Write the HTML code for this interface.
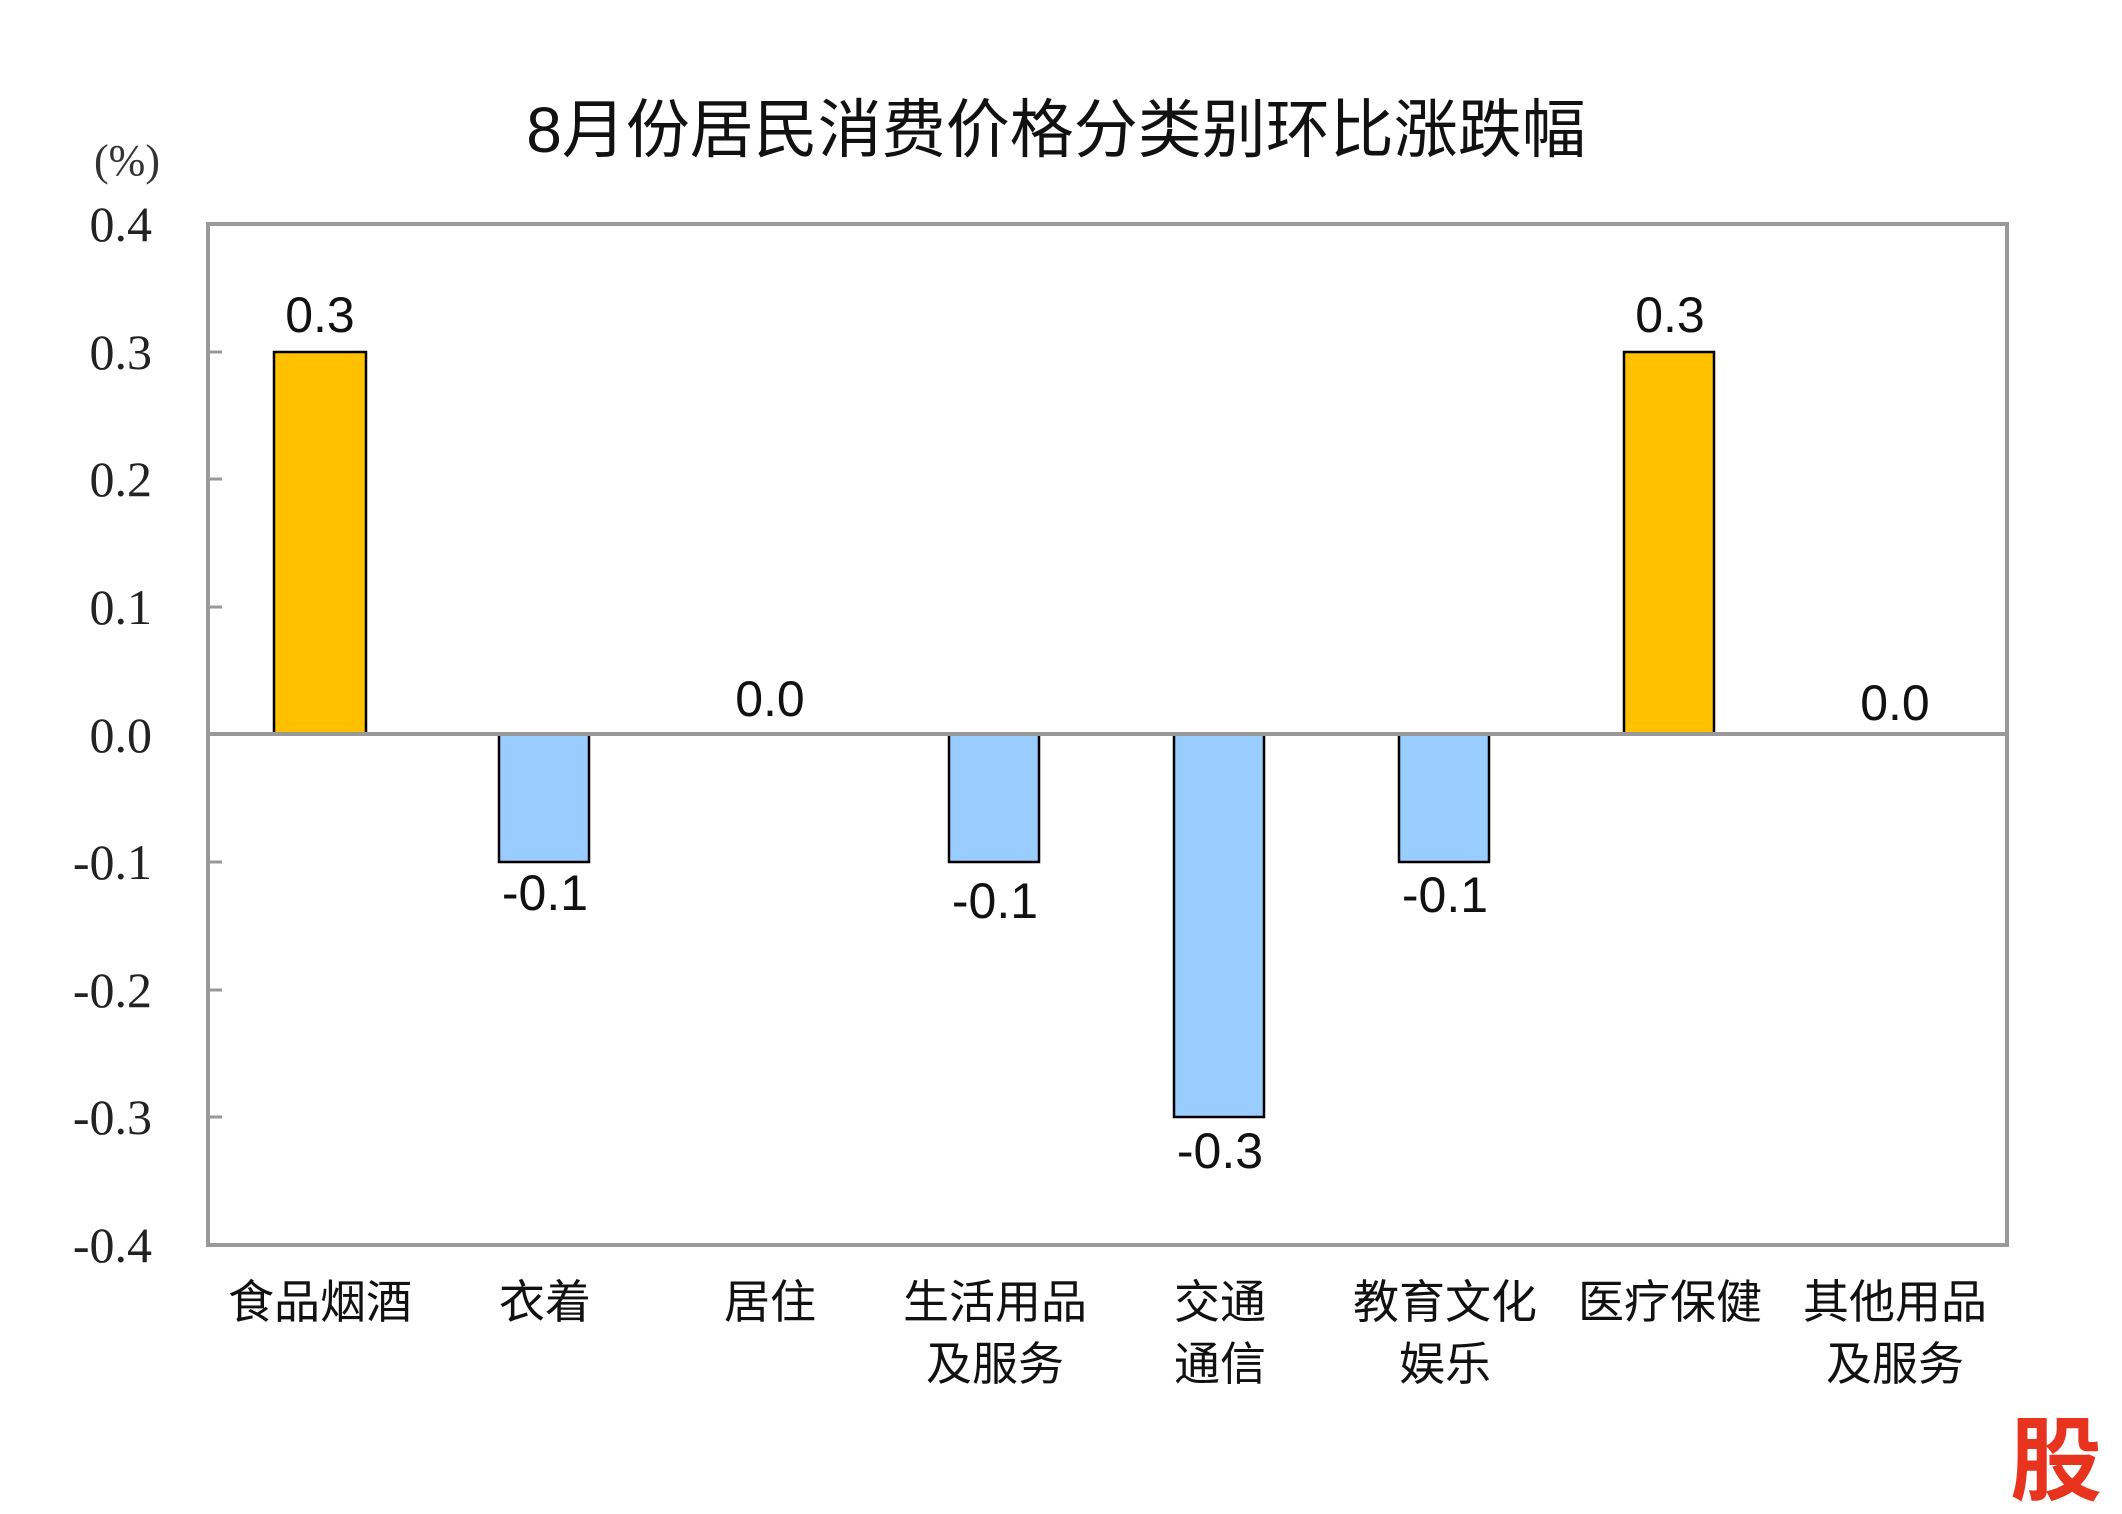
<!DOCTYPE html>
<html><head><meta charset="utf-8"><style>
html,body{margin:0;padding:0;background:#fff;}
svg{display:block;}
.t{font-family:"Liberation Sans","Noto Sans CJK SC",sans-serif;}
.s{font-family:"Liberation Serif",serif;}
</style></head><body>
<svg width="2122" height="1514" viewBox="0 0 2122 1514" xmlns="http://www.w3.org/2000/svg">
<rect width="2122" height="1514" fill="#fff"/>
<text x="1056" y="152" class="t" font-size="64" text-anchor="middle" fill="#111">8月份居民消费价格分类别环比涨跌幅</text>
<text x="127" y="175" class="s" font-size="44" text-anchor="middle" fill="#333">(%)</text>
<g class="s" font-size="50" fill="#222" text-anchor="end">
<text x="152" y="241">0.4</text>
<text x="152" y="369">0.3</text>
<text x="152" y="496">0.2</text>
<text x="152" y="624">0.1</text>
<text x="152" y="752">0.0</text>
<text x="152" y="879">-0.1</text>
<text x="152" y="1007">-0.2</text>
<text x="152" y="1134">-0.3</text>
<text x="152" y="1262">-0.4</text>
</g>
<g stroke="#999" stroke-width="3">
<line x1="208" y1="352" x2="222" y2="352"/>
<line x1="208" y1="479" x2="222" y2="479"/>
<line x1="208" y1="607" x2="222" y2="607"/>
<line x1="208" y1="862" x2="222" y2="862"/>
<line x1="208" y1="990" x2="222" y2="990"/>
<line x1="208" y1="1117" x2="222" y2="1117"/>
</g>
<g stroke="#000" stroke-width="2.5">
<rect x="274" y="352" width="92" height="382" fill="#FFC000"/>
<rect x="499" y="734" width="90" height="128" fill="#99CCFF"/>
<rect x="949" y="734" width="90" height="128" fill="#99CCFF"/>
<rect x="1174" y="734" width="90" height="383" fill="#99CCFF"/>
<rect x="1399" y="734" width="90" height="128" fill="#99CCFF"/>
<rect x="1624" y="352" width="90" height="382" fill="#FFC000"/>
</g>
<rect x="208" y="224" width="1799" height="1021" fill="none" stroke="#999" stroke-width="4"/>
<line x1="208" y1="734" x2="2007" y2="734" stroke="#999" stroke-width="4"/>
<g class="t" font-size="50" fill="#111" text-anchor="middle">
<text x="320" y="332">0.3</text>
<text x="545" y="910">-0.1</text>
<text x="770" y="716">0.0</text>
<text x="995" y="918">-0.1</text>
<text x="1220" y="1168">-0.3</text>
<text x="1445" y="912">-0.1</text>
<text x="1670" y="332">0.3</text>
<text x="1895" y="720">0.0</text>
</g>
<g class="t" font-size="46" fill="#111" text-anchor="middle">
<text x="320" y="1318">食品烟酒</text>
<text x="545" y="1318">衣着</text>
<text x="770" y="1318">居住</text>
<text x="995" y="1318">生活用品</text>
<text x="995" y="1380">及服务</text>
<text x="1220" y="1318">交通</text>
<text x="1220" y="1380">通信</text>
<text x="1445" y="1318">教育文化</text>
<text x="1445" y="1380">娱乐</text>
<text x="1670" y="1318">医疗保健</text>
<text x="1895" y="1318">其他用品</text>
<text x="1895" y="1380">及服务</text>
</g>
<text x="2056" y="1493" font-family="'Noto Sans CJK SC',sans-serif" font-weight="bold" font-size="92" fill="#e8331e" text-anchor="middle">股</text>
</svg>
</body></html>
